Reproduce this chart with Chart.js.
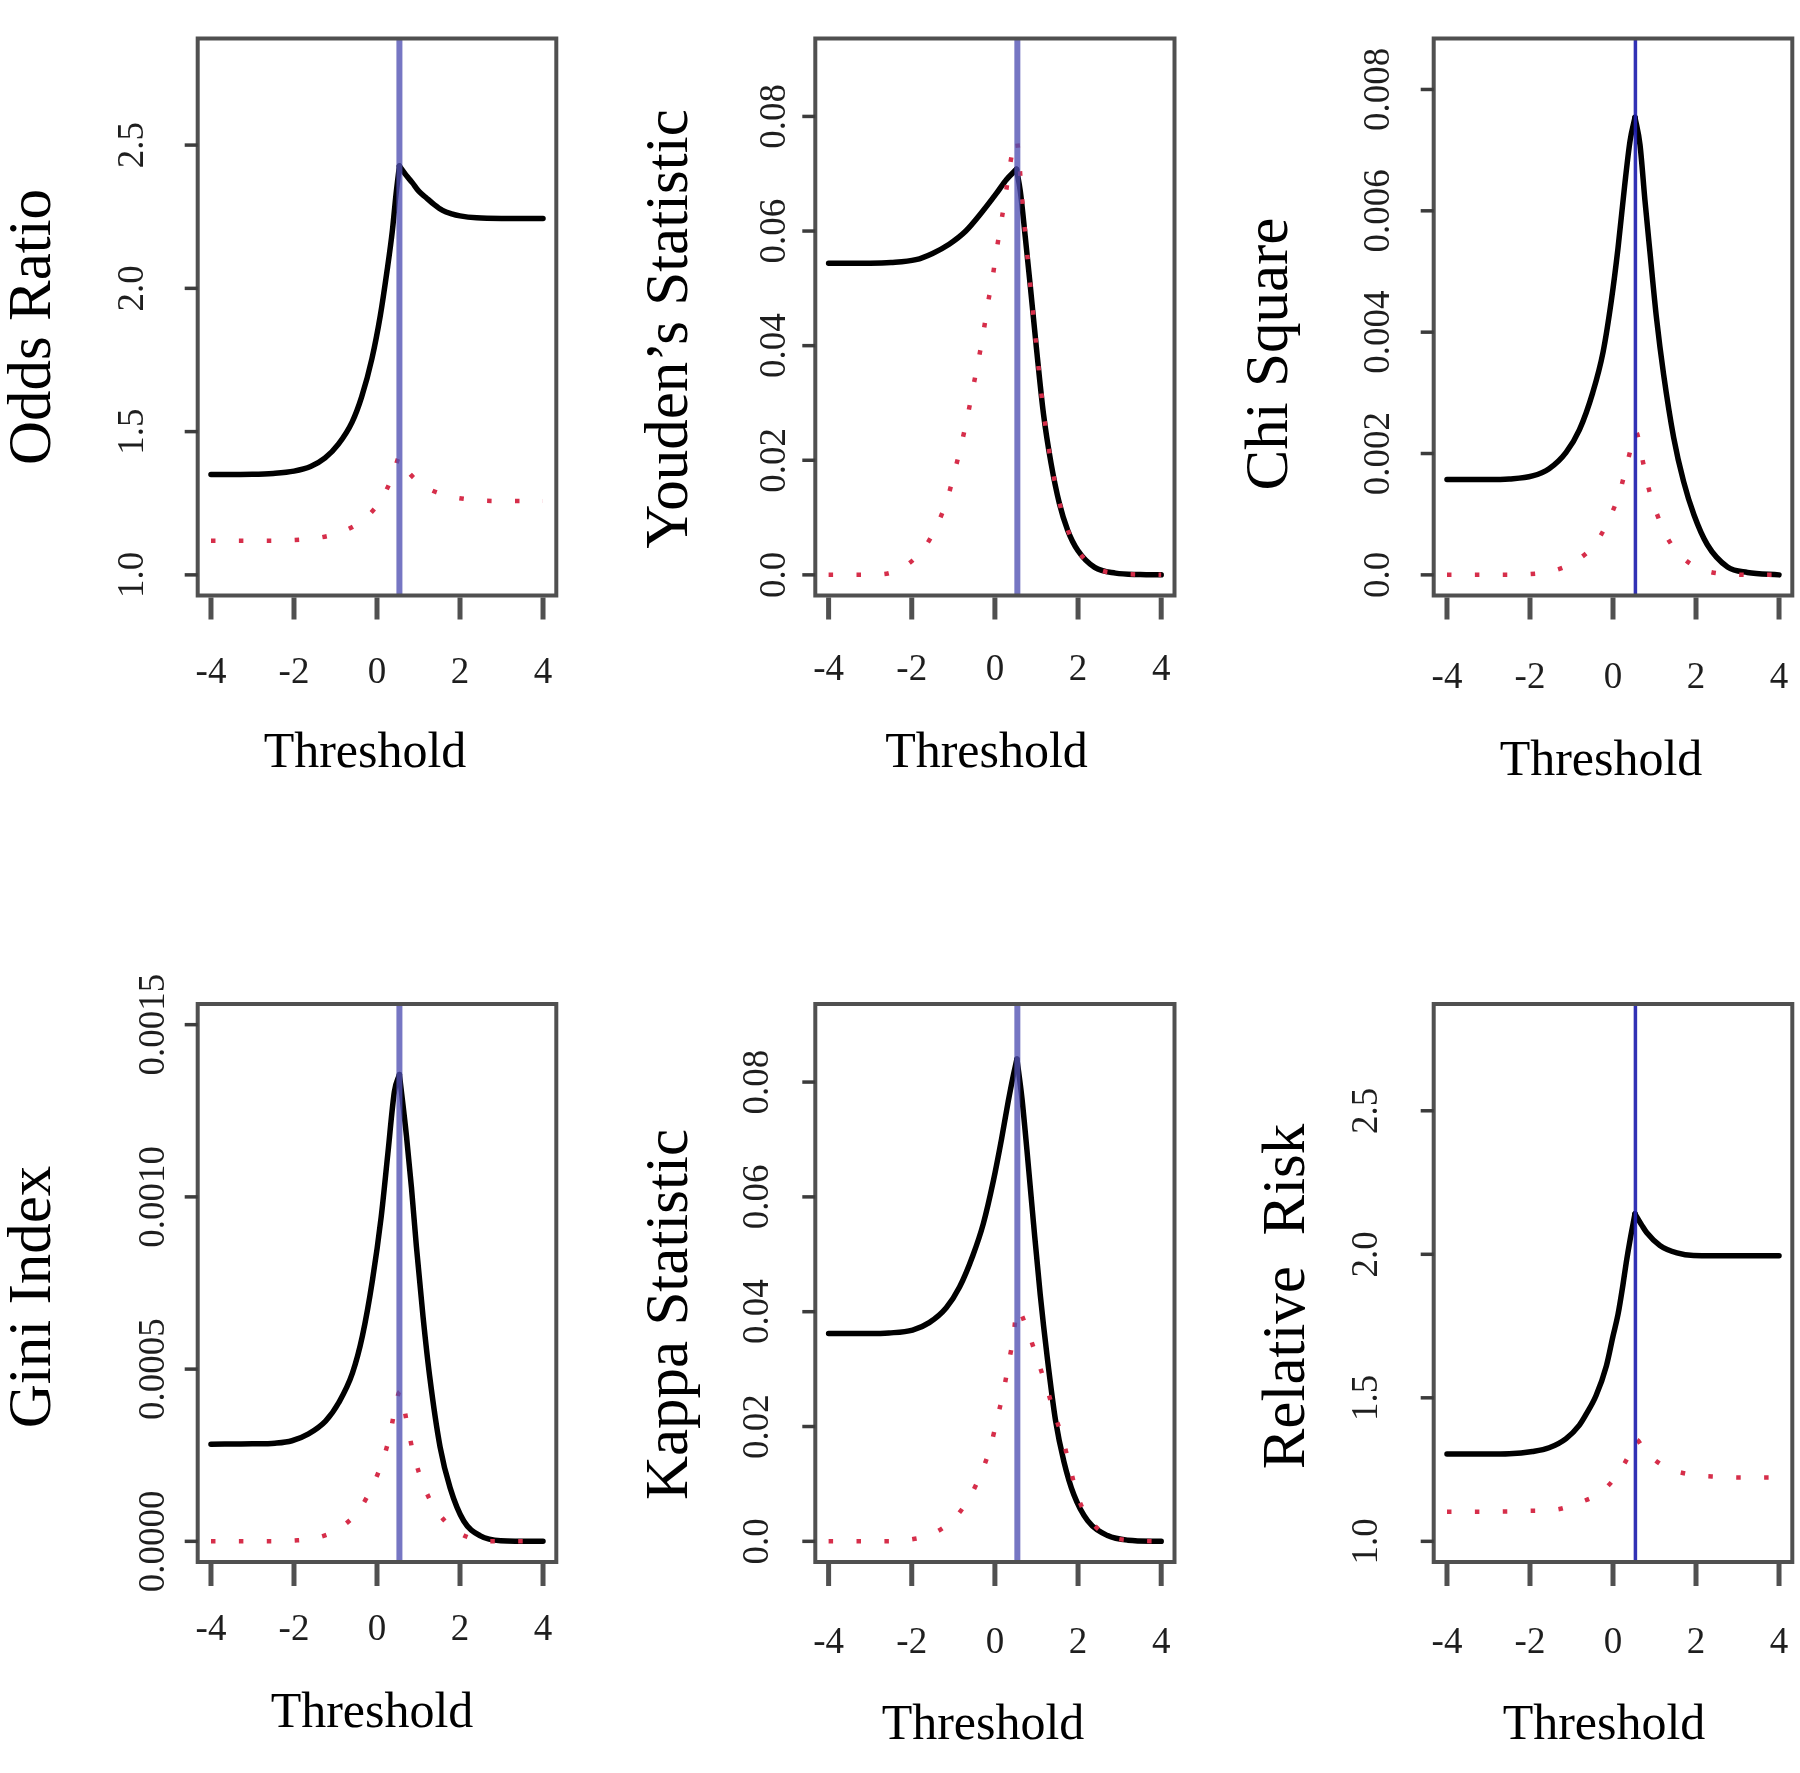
<!DOCTYPE html>
<html><head><meta charset="utf-8">
<script src="https://cdn.jsdelivr.net/npm/chart.js@4.4.1/dist/chart.umd.min.js"></script>
<style>
html,body{margin:0;padding:0;background:#fff;}
#wrap{position:relative;width:1800px;height:1773px;overflow:hidden;background:#fff;}
#wrap canvas{position:absolute;left:0;top:0;}
</style></head><body><div id="wrap"></div>
<script>
// ---------- data ----------
const xTickValues = [-4, -2, 0, 2, 4];
const xTickLabels = ['-4', '-2', '0', '2', '4'];
const cutoffs = [0.54, 0.54, 0.54, 0.54, 0.54, 0.54];

// Odds Ratio
const oddsBlackX = [-4.0,-3.0,-2.5,-2.0,-1.6,-1.25,-0.93,-0.6,-0.37,-0.12,0.08,0.24,0.37,0.46,0.54,0.7,0.85,1.0,1.18,1.38,1.58,1.8,2.0,2.4,3.0,4.0];
const oddsBlackY = [1.350,1.351,1.354,1.362,1.378,1.408,1.456,1.533,1.621,1.756,1.905,2.059,2.201,2.330,2.427,2.395,2.369,2.340,2.317,2.292,2.272,2.260,2.253,2.246,2.244,2.244];
const oddsRedX = [-4.0,-3.33,-2.68,-2.04,-1.42,-0.83,-0.30,0.12,0.40,0.54,0.61,1.06,1.60,2.22,2.86,3.53,4.0];
const oddsRedY = [1.119,1.119,1.119,1.121,1.129,1.151,1.196,1.267,1.354,1.412,1.389,1.317,1.280,1.263,1.258,1.258,1.258];
const oddsTicks = [1.0, 1.5, 2.0, 2.5];
const oddsTickLabels = ['1.0', '1.5', '2.0', '2.5'];

// Youden's Statistic
const youdenBlackX = [-4.0,-3.0,-2.5,-1.9,-1.5,-1.1,-0.7,-0.3,0.04,0.28,0.52,0.61,0.73,0.85,1.0,1.17,1.35,1.55,1.75,2.0,2.4,2.9,3.5,4.0];
const youdenBlackY = [0.0544,0.0544,0.0545,0.0550,0.0561,0.0577,0.0600,0.0634,0.0666,0.0690,0.0708,0.0670,0.0590,0.0505,0.0395,0.0280,0.0195,0.0125,0.0078,0.0042,0.0013,0.0003,0.00005,0];
const youdenRedX = [-4.0,-3.34,-2.71,-2.15,-1.69,-1.37,-1.13,-0.96,-0.80,-0.66,-0.53,-0.40,-0.28,-0.18,-0.06,0.04,0.15,0.26,0.35,0.52,0.57,0.65,0.75,0.85,1.0,1.17,1.35,1.55,1.75,2.0,2.4,2.9,3.5,4.0];
const youdenRedY = [0,0,0.0001,0.0016,0.0048,0.0090,0.0136,0.0183,0.0230,0.0276,0.0325,0.0373,0.0421,0.0469,0.0517,0.0566,0.0615,0.0664,0.0710,0.0760,0.0734,0.0660,0.0580,0.0507,0.0397,0.0284,0.0197,0.0127,0.0079,0.0042,0.0013,0.0003,0.00005,0];
const youdenTicks = [0, 0.02, 0.04, 0.06, 0.08];
const youdenTickLabels = ['0.0', '0.02', '0.04', '0.06', '0.08'];

// Chi Square
const chiBlackX = [-4.0,-3.0,-2.5,-1.94,-1.54,-1.13,-0.81,-0.49,-0.24,-0.04,0.12,0.28,0.41,0.53,0.65,0.77,0.89,1.05,1.22,1.46,1.70,1.95,2.27,2.76,3.24,4.0];
const chiBlackY = [0.00157,0.00157,0.00158,0.00163,0.00175,0.00202,0.00239,0.00300,0.00367,0.00452,0.00538,0.00641,0.00715,0.00754,0.00709,0.00617,0.00532,0.00422,0.00330,0.00227,0.00154,0.00099,0.00050,0.00013,0.00004,0];
const chiRedX = [-4.0,-3.34,-2.69,-2.04,-1.42,-0.89,-0.41,-0.10,0.15,0.32,0.49,0.55,0.71,0.85,1.05,1.31,1.72,2.23,2.84,3.48,4.0];
const chiRedY = [0,0,0,0.00001,0.00007,0.00023,0.00053,0.00091,0.00134,0.00178,0.00224,0.00236,0.00190,0.00145,0.00102,0.00061,0.00026,0.00007,0.00001,0,0];
const chiTicks = [0, 0.002, 0.004, 0.006, 0.008];
const chiTickLabels = ['0.0', '0.002', '0.004', '0.006', '0.008'];

// Gini Index
const giniBlackX = [-4.0,-3.0,-2.46,-2.05,-1.65,-1.24,-0.92,-0.59,-0.35,-0.11,0.10,0.26,0.42,0.54,0.71,0.83,0.95,1.11,1.27,1.52,1.76,2.09,2.49,2.98,4.0];
const giniBlackY = [0.000282,0.000283,0.000285,0.000292,0.000312,0.000349,0.000403,0.000489,0.000597,0.000758,0.000941,0.001124,0.001306,0.001355,0.001177,0.001027,0.000855,0.000651,0.000478,0.000274,0.000156,0.000059,0.000016,0.000002,0];
const giniRedX = [-4.0,-3.31,-2.65,-2.03,-1.42,-0.86,-0.41,-0.10,0.15,0.32,0.45,0.55,0.71,0.84,1.02,1.27,1.65,2.15,2.73,4.0];
const giniRedY = [0,0,0,0.000002,0.000011,0.000041,0.000095,0.000163,0.000239,0.000314,0.000397,0.000435,0.000352,0.000274,0.000196,0.000122,0.000057,0.000014,0,0];
const giniTicks = [0, 0.0005, 0.0010, 0.0015];
const giniTickLabels = ['0.0000', '0.0005', '0.0010', '0.0015'];

// Kappa Statistic
const kappaBlackX = [-4.0,-3.0,-2.55,-1.98,-1.58,-1.17,-0.85,-0.53,-0.28,-0.04,0.16,0.32,0.45,0.53,0.65,0.77,0.93,1.09,1.26,1.46,1.66,1.90,2.23,2.71,3.2,4.0];
const kappaBlackY = [0.0362,0.0362,0.0363,0.0368,0.0381,0.0407,0.0443,0.0498,0.0553,0.0627,0.0701,0.0766,0.0814,0.0840,0.0772,0.0682,0.0553,0.0430,0.0320,0.0210,0.0139,0.0081,0.0036,0.0010,0.0002,0];
const kappaRedX = [-4.0,-3.34,-2.69,-2.04,-1.47,-0.96,-0.60,-0.31,-0.10,0.06,0.21,0.33,0.45,0.53,0.81,1.03,1.24,1.43,1.64,1.82,2.0,2.3,2.7,3.2,4.0];
const kappaRedY = [0,0,0,0.0003,0.0014,0.0041,0.0078,0.0122,0.0167,0.0215,0.0263,0.0310,0.0359,0.0405,0.0362,0.0315,0.0269,0.0223,0.0176,0.0125,0.0076,0.0036,0.0011,0.0002,0];
const kappaTicks = [0, 0.02, 0.04, 0.06, 0.08];
const kappaTickLabels = ['0.0', '0.02', '0.04', '0.06', '0.08'];

// Relative Risk
const rrBlackX = [-4.0,-3.0,-2.5,-1.94,-1.54,-1.13,-0.81,-0.65,-0.41,-0.16,0.0,0.12,0.24,0.32,0.41,0.53,0.7,0.81,1.13,1.54,1.94,3.0,4.0];
const rrBlackY = [1.304,1.304,1.305,1.313,1.326,1.358,1.405,1.442,1.507,1.611,1.715,1.790,1.894,1.972,2.049,2.141,2.100,2.076,2.031,2.005,1.996,1.995,1.995];
const rrRedX = [-4.0,-3.34,-2.69,-2.04,-1.39,-0.81,-0.27,0.15,0.47,0.55,0.78,1.26,1.86,2.50,3.12,3.77,4.0];
const rrRedY = [1.1035,1.1035,1.1035,1.106,1.110,1.135,1.173,1.242,1.326,1.355,1.313,1.259,1.233,1.225,1.2225,1.2225,1.2225];
const rrTicks = [1.0, 1.5, 2.0, 2.5];
const rrTickLabels = ['1.0', '1.5', '2.0', '2.5'];

const yTitles = ['Odds Ratio', 'Youden\u2019s Statistic', 'Chi Square', 'Gini Index', 'Kappa Statistic', 'Relative  Risk'];
const xTitle = 'Threshold';

// ---------- layout (positions / styles) ----------
const W = 1800, H = 1773;
const SERIF = '"Liberation Serif","Times New Roman","DejaVu Serif",serif';
const RED = 'rgb(214,46,74)';
const BLUE_SOFT = 'rgba(80,80,178,0.78)';
const BLUE_HARD = 'rgba(32,32,175,0.92)';

const panels = [
  {bx:oddsBlackX, by:oddsBlackY, rx:oddsRedX, ry:oddsRedY, yt:oddsTicks, yl:oddsTickLabels,
   ymin:0.928, ymax:2.872, L:197.7, R:556.3, T:38.5, B:595.5,
   yLabX:133, xLabY:673, titX:50, titY:327, thrX:365, thrY:767, blue:BLUE_SOFT, blueW:6},
  {bx:youdenBlackX, by:youdenBlackY, rx:youdenRedX, ry:youdenRedY, yt:youdenTicks, yl:youdenTickLabels,
   ymin:-0.0036, ymax:0.0936, L:815.3, R:1174.5, T:38.5, B:595.5,
   yLabX:775, xLabY:670, titX:686.5, titY:329, thrX:986.5, thrY:767, blue:BLUE_SOFT, blueW:6},
  {bx:chiBlackX, by:chiBlackY, rx:chiRedX, ry:chiRedY, yt:chiTicks, yl:chiTickLabels,
   ymin:-0.00034, ymax:0.00884, L:1433.7, R:1792.3, T:38.5, B:595.5,
   yLabX:1379, xLabY:678, titX:1286.5, titY:354, thrX:1601, thrY:774.5, blue:BLUE_HARD, blueW:3.5},
  {bx:giniBlackX, by:giniBlackY, rx:giniRedX, ry:giniRedY, yt:giniTicks, yl:giniTickLabels,
   ymin:-0.00006, ymax:0.00156, L:197.7, R:556.3, T:1004, B:1562,
   yLabX:154, xLabY:1630.6, titX:50, titY:1297, thrX:372, thrY:1726.5, blue:BLUE_SOFT, blueW:6},
  {bx:kappaBlackX, by:kappaBlackY, rx:kappaRedX, ry:kappaRedY, yt:kappaTicks, yl:kappaTickLabels,
   ymin:-0.0036, ymax:0.0936, L:815.3, R:1174.5, T:1004, B:1562,
   yLabX:758.5, xLabY:1643.6, titX:686.5, titY:1314.5, thrX:983, thrY:1739, blue:BLUE_SOFT, blueW:6},
  {bx:rrBlackX, by:rrBlackY, rx:rrRedX, ry:rrRedY, yt:rrTicks, yl:rrTickLabels,
   ymin:0.928, ymax:2.872, L:1433.7, R:1792.3, T:1004, B:1562,
   yLabX:1367, xLabY:1643.6, titX:1304, titY:1296.5, thrX:1604, thrY:1739, blue:BLUE_HARD, blueW:3.5}
];

const wrap = document.getElementById('wrap');
const pts = (xs, ys) => xs.map((x, i) => ({x: x, y: ys[i]}));

function framePlugin(p, title) {
  return {
    id: 'rframe',
    afterDraw(chart) {
      const ctx = chart.ctx, a = chart.chartArea;
      const xs = chart.scales.x, ys = chart.scales.y;
      ctx.save();
      // box
      ctx.strokeStyle = '#505050';
      ctx.lineWidth = 4;
      ctx.strokeRect(a.left, a.top, a.right - a.left, a.bottom - a.top);
      // y ticks
      ctx.strokeStyle = '#3c3c3c';
      ctx.lineWidth = 3.5;
      ys.ticks.forEach(t => {
        const y = ys.getPixelForValue(t.value);
        ctx.beginPath(); ctx.moveTo(a.left - 13, y); ctx.lineTo(a.left, y); ctx.stroke();
      });
      // x ticks
      ctx.strokeStyle = '#505050';
      ctx.lineWidth = 5;
      xs.ticks.forEach(t => {
        const x = xs.getPixelForValue(t.value);
        ctx.beginPath(); ctx.moveTo(x, a.bottom + 2); ctx.lineTo(x, a.bottom + 24); ctx.stroke();
      });
      // tick labels
      ctx.fillStyle = '#1e1e1e';
      ctx.font = '37px ' + SERIF;
      ctx.textAlign = 'center';
      ctx.textBaseline = 'middle';
      xs.ticks.forEach((t, i) => {
        ctx.fillText(xTickLabels[i], xs.getPixelForValue(t.value), p.xLabY);
      });
      ys.ticks.forEach((t, i) => {
        ctx.save();
        ctx.translate(p.yLabX, ys.getPixelForValue(t.value));
        ctx.rotate(-Math.PI / 2);
        ctx.fillText(p.yl[i], 0, 0);
        ctx.restore();
      });
      // axis titles
      ctx.fillStyle = '#000';
      ctx.textBaseline = 'alphabetic';
      ctx.font = '50px ' + SERIF;
      ctx.fillText(xTitle, p.thrX, p.thrY);
      ctx.save();
      ctx.translate(p.titX, p.titY);
      ctx.rotate(-Math.PI / 2);
      ctx.font = '61px ' + SERIF;
      ctx.fillText(title, 0, 0);
      ctx.restore();
      ctx.restore();
    }
  };
}

panels.forEach((p, i) => {
  const c = document.createElement('canvas');
  c.width = W; c.height = H;
  c.style.width = W + 'px'; c.style.height = H + 'px';
  wrap.appendChild(c);
  // split the solid curve at its peak so the cusp stays sharp
  const blackPts = pts(p.bx, p.by);
  let k = 0;
  p.by.forEach((v, j) => { if (v > p.by[k]) k = j; });
  const blackStyle = {borderColor: '#000', borderWidth: 5.5, pointRadius: 0,
    cubicInterpolationMode: 'monotone', order: 2, borderJoinStyle: 'round', borderCapStyle: 'round'};
  new Chart(c, {
    type: 'line',
    data: {
      datasets: [
        Object.assign({label: yTitles[i], data: blackPts.slice(0, k + 1)}, blackStyle),
        Object.assign({label: yTitles[i] + ' (right)', data: blackPts.slice(k)}, blackStyle),
        {label: yTitles[i] + ' (dotted)', data: pts(p.rx, p.ry), borderColor: RED, borderWidth: 4.5,
         borderDash: [4.5, 23.4], borderCapStyle: 'butt', pointRadius: 0,
         cubicInterpolationMode: 'monotone', order: 1},
        {label: 'cutoff', data: [{x: cutoffs[i], y: p.ymin}, {x: cutoffs[i], y: p.ymax}],
         borderColor: p.blue, borderWidth: p.blueW, pointRadius: 0, tension: 0, order: 0}
      ]
    },
    options: {
      responsive: false, animation: false, devicePixelRatio: 1, events: [],
      layout: {padding: {left: p.L, right: W - p.R, top: p.T, bottom: H - p.B}},
      plugins: {legend: {display: false}, tooltip: {enabled: false}, title: {display: false}},
      scales: {
        x: {type: 'linear', min: -4.32, max: 4.32,
            grid: {display: false}, border: {display: false}, ticks: {display: false},
            afterBuildTicks(s) { s.ticks = xTickValues.map(v => ({value: v})); },
            afterFit(s) { s.height = 0; }},
        y: {type: 'linear', min: p.ymin, max: p.ymax,
            grid: {display: false}, border: {display: false}, ticks: {display: false},
            afterBuildTicks(s) { s.ticks = p.yt.map(v => ({value: v})); },
            afterFit(s) { s.width = 0; }}
      }
    },
    plugins: [framePlugin(p, yTitles[i])]
  });
});
</script>
</body></html>
